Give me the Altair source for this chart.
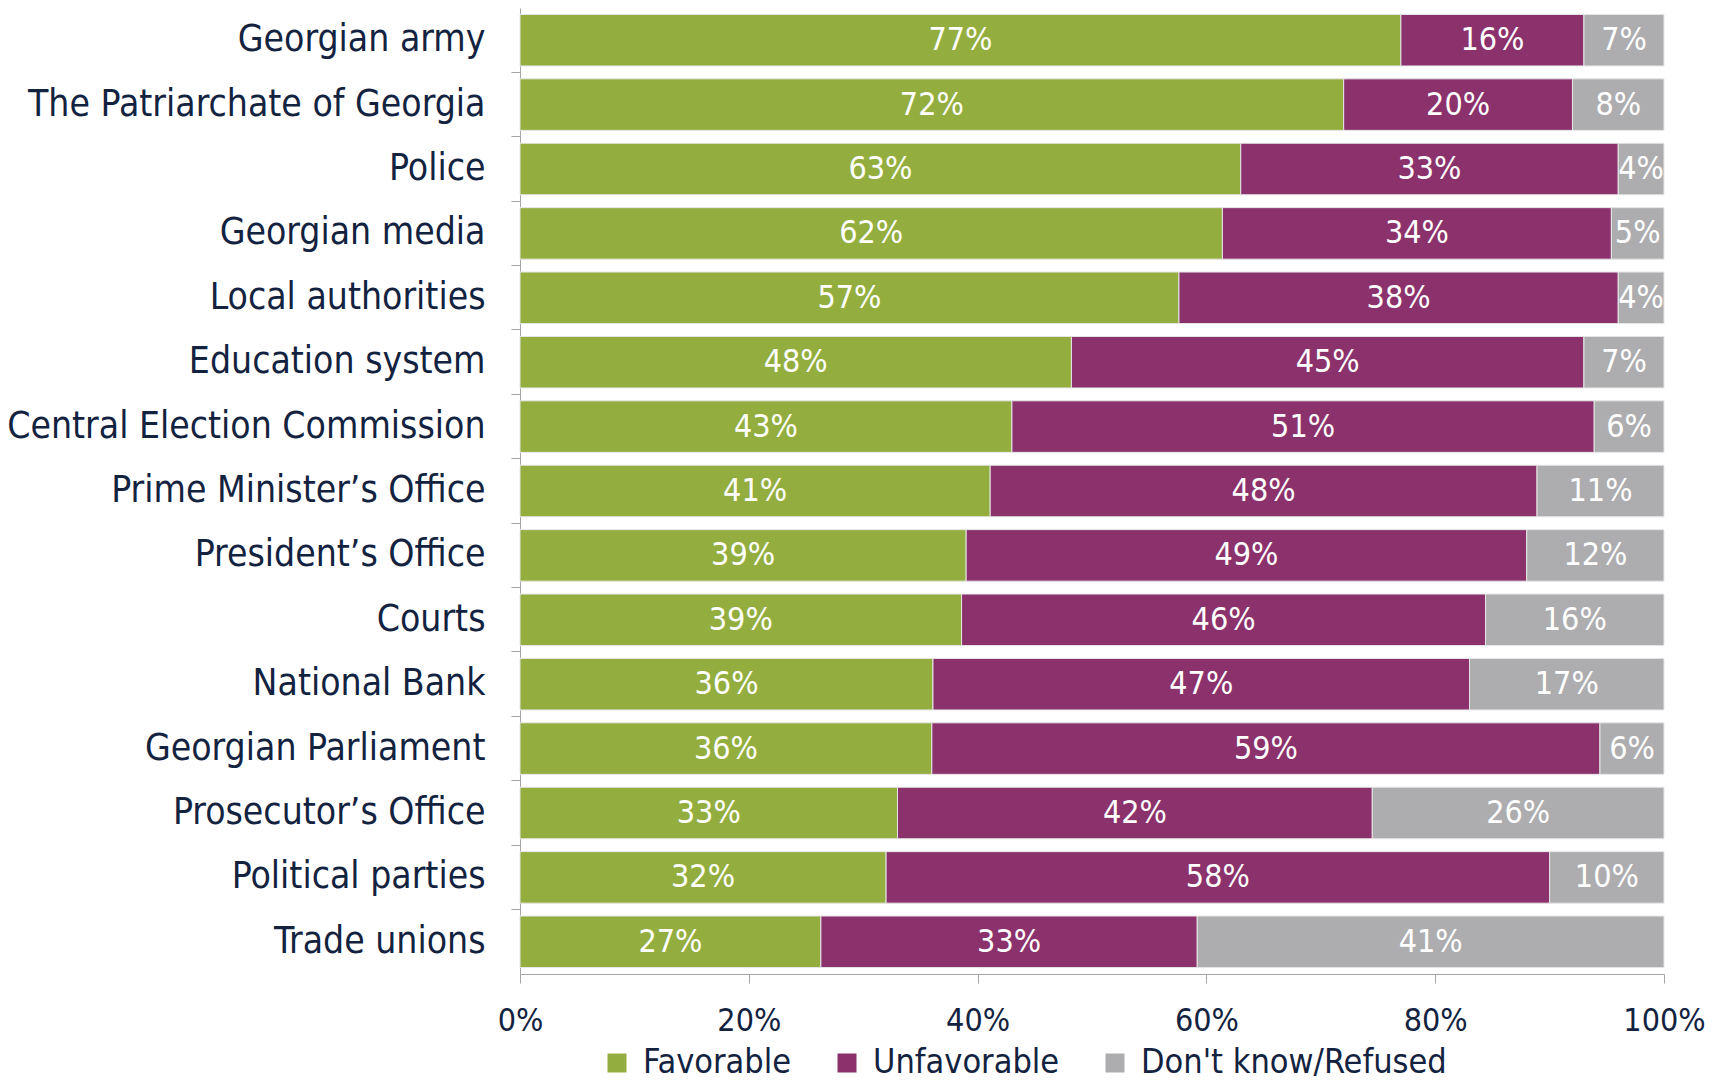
import altair as alt
import pandas as pd

categories = [
    "Georgian army", "The Patriarchate of Georgia", "Police", "Georgian media",
    "Local authorities", "Education system", "Central Election Commission",
    "Prime Minister\u2019s Office", "President\u2019s Office", "Courts",
    "National Bank", "Georgian Parliament", "Prosecutor\u2019s Office",
    "Political parties", "Trade unions",
]
responses = ["Favorable", "Unfavorable", "Don't know/Refused"]
colors = ["#93AE3F", "#8B316C", "#ADADAF"]

# bar lengths (percent)
favorable = [77.0, 72.0, 63.0, 61.4, 57.6, 48.2, 43.0, 41.1, 39.0, 38.6, 36.1, 36.0, 33.0, 32.0, 26.3]
unfavorable = [16.0, 20.0, 33.0, 34.0, 38.4, 44.8, 50.9, 47.8, 49.0, 45.8, 46.9, 58.4, 41.5, 58.0, 32.9]
dont_know = [7.0, 8.0, 4.0, 4.6, 4.0, 7.0, 6.1, 11.1, 12.0, 15.6, 17.0, 5.6, 25.5, 10.0, 40.8]

# labels as printed in the picture
favorable_lbl = ["77%", "72%", "63%", "62%", "57%", "48%", "43%", "41%", "39%", "39%", "36%", "36%", "33%", "32%", "27%"]
unfavorable_lbl = ["16%", "20%", "33%", "34%", "38%", "45%", "51%", "48%", "49%", "46%", "47%", "59%", "42%", "58%", "33%"]
dont_know_lbl = ["7%", "8%", "4%", "5%", "4%", "7%", "6%", "11%", "12%", "16%", "17%", "6%", "26%", "10%", "41%"]

x_ticks = [0, 20, 40, 60, 80, 100]

rows = []
for i, c in enumerate(categories):
    for k, (vals, lbls) in enumerate([(favorable, favorable_lbl), (unfavorable, unfavorable_lbl), (dont_know, dont_know_lbl)]):
        rows.append({"category": c, "response": responses[k], "order": k, "value": vals[i], "label": lbls[i]})
df = pd.DataFrame(rows)

FONT = "DejaVu Sans Condensed"
TXT = "#13233F"
GRID = "#A6A6A6"

base = alt.Chart(df).transform_stack(
    stack="value", as_=["x0", "x1"], groupby=["category"], sort=[alt.SortField("order")]
).transform_calculate(mid="(datum.x0 + datum.x1) / 2")

y_enc = alt.Y(
    "category:N",
    sort=categories,
    title=None,
    scale=alt.Scale(paddingInner=0.2, paddingOuter=0.1),
    axis=alt.Axis(
        bandPosition=-0.125, tickSize=9, tickColor=GRID, domainColor=GRID,
        labelFont=FONT, labelFontSize=37, labelColor=TXT, labelPadding=26,
        labelLimit=600,
    ),
)

bars = base.mark_bar(stroke="#E6E6E6", strokeWidth=1).encode(
    y=y_enc,
    x=alt.X(
        "x0:Q",
        title=None,
        scale=alt.Scale(domain=[0, 100], nice=False),
        axis=alt.Axis(
            values=x_ticks, labelExpr="datum.value + '%'", tickSize=9,
            tickColor=GRID, domainColor=GRID, labelFont=FONT, labelFontSize=32,
            labelColor=TXT, labelPadding=22, grid=False, labelFlush=False,
        ),
    ),
    x2="x1:Q",
    color=alt.Color(
        "response:N",
        scale=alt.Scale(domain=responses, range=colors),
        legend=alt.Legend(
            title=None, orient="none", direction="horizontal", legendX=80, legendY=1038,
            symbolType="square", symbolSize=361, symbolStrokeWidth=0,
            labelFont=FONT, labelFontSize=34, labelColor=TXT, columnPadding=38,
            labelOffset=9, padding=0, labelLimit=600,
        ),
    ),
    order=alt.Order("order:Q"),
)

labels = base.mark_text(color="white", font=FONT, fontSize=32, baseline="middle", align="center").encode(
    y=alt.Y("category:N", sort=categories),
    x=alt.X("mid:Q"),
    text="label:N",
)

chart = (bars + labels).properties(
    width=1144, height=966,
    padding={"left": 512, "top": 0, "right": 50, "bottom": 106},
    autosize=alt.AutoSizeParams(type="none"),
).configure_view(stroke=None).configure_axis(grid=False)

chart.save("out.html", embed_options={"renderer": "svg", "actions": False})
